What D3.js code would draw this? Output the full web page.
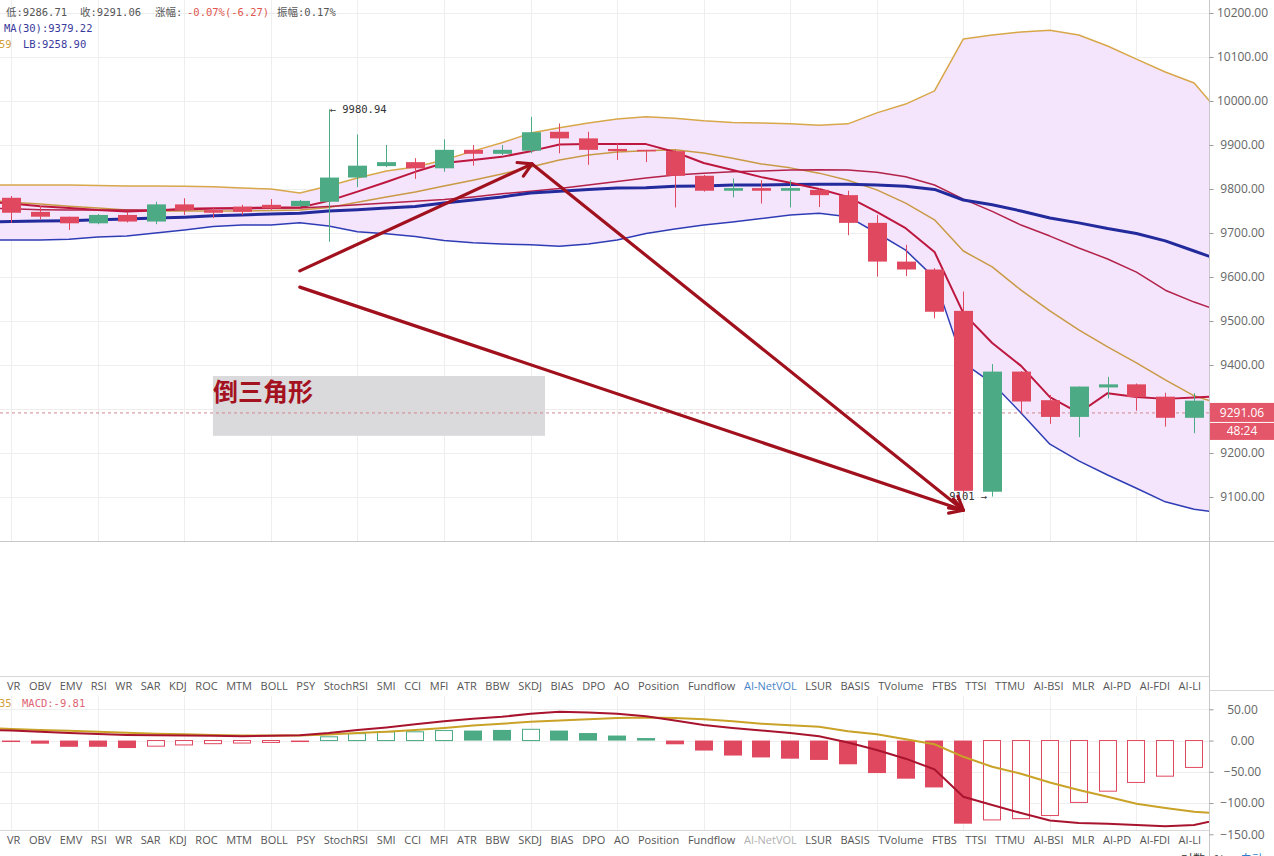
<!DOCTYPE html>
<html><head><meta charset="utf-8">
<script src="https://cdn.jsdelivr.net/npm/d3@7"></script>
<style>
body{margin:0;background:#fff;overflow:hidden}
svg{display:block}
</style></head><body>
<svg id="c" width="1274" height="856"></svg>
<script>
// ---------- DATA ----------
const opens  = [9780,9748,9737,9722,9741,9726,9765,9752,9760,9764,9761,9771,9826,9852,9861,9847,9889,9880,9887,9930,9915,9891,9889,9886,9830,9796,9802,9796,9798,9786,9723,9635,9617,9523,9112,9385,9320,9282,9349,9356,9328,9280];
const highs  = [9784,9761,9737,9743,9748,9771,9779,9758,9764,9777,9775,9980.94,9924,9900,9870,9913,9900,9900,9964,9949,9930,9905,9889,9889,9832,9824,9820,9820,9802,9796,9741,9673,9620,9567,9402,9386,9332,9351,9373,9358,9337,9336];
const lows   = [9723,9731,9707,9720,9724,9720,9741,9734,9741,9752,9759,9680,9804,9850,9823,9839,9853,9877,9881,9881,9855,9866,9861,9758,9794,9781,9767,9758,9759,9695,9601,9602,9506,9108,9101,9290,9266,9236,9324,9296,9260,9245];
const closes = [9746,9737,9722,9741,9726,9765,9752,9746,9748,9756,9773,9826,9853,9861,9847,9889,9880,9889,9929,9915,9889,9886,9888,9830,9796,9802,9796,9802,9786,9723,9635,9617,9521,9114,9385,9317,9282,9351,9356,9327,9280,9319];

// indicator lines: first value belongs to bar index -1, last to bar index 42 (off-screen)
const bollUpper = [9809,9809,9809,9809,9808,9807,9807,9806,9805,9802,9800,9791,9807,9825,9841,9850,9866,9886,9905,9927,9939,9950,9959,9964,9961,9955,9951,9950,9948,9945,9948,9973,9993,10023,10141,10150,10157,10161,10150,10125,10095,10066,10041,9964];
const bollLower = [9684,9684,9684,9686,9691,9693,9700,9707,9715,9718,9718,9723,9716,9703,9698,9692,9683,9678,9675,9673,9670,9675,9684,9699,9709,9718,9725,9733,9741,9745,9737,9700,9661,9598,9405,9359,9291,9220,9182,9150,9120,9089,9072,9064];
const maNavy = [9725,9726,9727,9728,9730,9732,9734,9736,9739,9741,9743,9745,9750,9753,9757,9760,9768,9775,9782,9791,9795,9799,9802,9803,9806,9807,9809,9809,9810,9811,9811,9809,9806,9799,9775,9764,9750,9734,9723,9710,9699,9682,9659,9636];
const maFast = [9772,9767,9761,9757,9752,9749,9751,9755,9756,9757,9758,9758,9773,9794,9816,9839,9859,9866,9873,9886,9901,9902,9902,9902,9884,9859,9843,9827,9814,9800,9782,9748,9711,9657,9518,9450,9398,9327,9291,9336,9327,9323,9326,9330];
const maSlow = [9756,9755,9753,9752,9752,9752,9752,9753,9755,9755,9756,9757,9760,9764,9768,9772,9776,9782,9789,9795,9801,9809,9817,9825,9832,9836,9839,9841,9843,9844,9843,9838,9828,9809,9777,9749,9718,9693,9666,9641,9611,9570,9543,9520];
const maGold = [9775,9770,9766,9761,9757,9752,9750,9750,9750,9750,9751,9752,9758,9770,9782,9793,9807,9820,9834,9850,9866,9877,9884,9887,9889,9882,9870,9857,9848,9836,9820,9798,9768,9730,9659,9623,9570,9523,9480,9441,9405,9366,9330,9309];

const macdHist   = [-1,-5,-10,-10,-12,-9,-7,-5,-4,-3,-1.5,6,11,14,14,16,16,17,18,16,12,8,4,-6,-16,-24,-27,-29,-31,-38,-52,-61,-75,-133,-127,-125,-120,-99,-81,-67,-57,-43];
const macdHollow = [0,0,0,0,0,1,1,1,1,1,0,1,1,1,1,1,0,0,1,0,0,0,0,0,0,0,0,0,0,0,0,0,0,0,1,1,1,1,1,1,1,1];
const macdDif = [17,16,14,12,10.5,9,8.5,8,7.5,7,7.5,8.5,12,17,21,26,31,35,38,43,46,45,43,39,32,25,20,16,12,7,-3,-15,-29,-46,-90,-103,-116,-128,-132,-133,-135,-137,-135,-125];
const macdDea = [20,18.5,17,15.5,14,12.5,11,10,9,8,8,8.2,9.5,12,14,17,20,24,27,30,32,34,36,37,36,34,31,27,24.5,22,15,10,2,-6,-26,-42,-53,-67,-79,-90,-101,-108,-114,-117];

const priceTicks = [10200,10100,10000,9900,9800,9700,9600,9500,9400,9300,9200,9100];
const macdTicks = [50,0,-50,-100,-150];
const tabLabels = ["VR","OBV","EMV","RSI","WR","SAR","KDJ","ROC","MTM","BOLL","PSY","StochRSI","SMI","CCI","MFI","ATR","BBW","SKDJ","BIAS","DPO","AO","Position","Fundflow","AI-NetVOL","LSUR","BASIS","TVolume","FTBS","TTSI","TTMU","AI-BSI","MLR","AI-PD","AI-FDI","AI-LI"];
const lastPrice = 9291.06;
const countdown = "48:24";
const highMark = {i:11, v:9980.94};
const lowMark = {i:34, v:9101};
const patternLabel = "倒三角形";
const patternBox = {i0:6.99, i1:18.5, p0:9375, p1:9239};
const arrows = [
  {from:[10,9614], to:[18.05,9857]},
  {from:[18.05,9857], to:[33,9070]},
  {from:[10,9577], to:[33,9070]}
];

// ---------- SCALES ----------
const svg = d3.select("#c");
const AX = 1209.5;
const x = d3.scaleLinear().domain([0,42]).range([11.3, 11.3+28.85*42]);
const yP = d3.scaleLinear().domain([9000,10229.5]).range([541,0]);
const yM = d3.scaleLinear().domain([-150,50]).range([834.3,709.3]);
const RED = "#e0485f", GREEN = "#4cab84";
const MONO = "'DejaVu Sans Mono','Noto Sans CJK SC',monospace";
const SANS = "'Open Sans','Noto Sans',sans-serif";

const defs = svg.append("defs");
defs.append("clipPath").attr("id","cm").append("rect").attr("x",0).attr("y",0).attr("width",1209).attr("height",541);
defs.append("clipPath").attr("id","cd").append("rect").attr("x",0).attr("y",696).attr("width",1209).attr("height",134);

const lineX = (d,k) => x(k-1);

// ---------- MAIN PANE ----------
const main = svg.append("g").attr("clip-path","url(#cm)");
const vIdx = d3.range(0,43,3);
main.selectAll(".vg").data(vIdx).join("line")
  .attr("x1",d=>Math.round(x(d))+0.5).attr("x2",d=>Math.round(x(d))+0.5)
  .attr("y1",0).attr("y2",541).attr("stroke","#eeeeee");
main.selectAll(".hg").data(priceTicks).join("line")
  .attr("x1",0).attr("x2",1209).attr("y1",d=>Math.round(yP(d))+0.5).attr("y2",d=>Math.round(yP(d))+0.5)
  .attr("stroke","#eeeeee");

main.append("path").datum(bollUpper)
  .attr("d", d3.area().x(lineX).y0((d,k)=>yP(bollLower[k])).y1(d=>yP(d)))
  .attr("fill","#f4e5fc");

main.append("rect")
  .attr("x",x(patternBox.i0)).attr("y",yP(patternBox.p0))
  .attr("width",x(patternBox.i1)-x(patternBox.i0)).attr("height",yP(patternBox.p1)-yP(patternBox.p0))
  .attr("fill","#d8d8da").attr("opacity",0.95);

main.append("line").attr("x1",0).attr("x2",1209)
  .attr("y1",yP(lastPrice)).attr("y2",yP(lastPrice))
  .attr("stroke","#d08890").attr("stroke-dasharray","3,3").attr("stroke-width",1);

const ln = d3.line().x(lineX).y(d=>yP(d));
const lineSpecs = [
  [bollUpper,"#d8a74a",1.5],
  [bollLower,"#2f3db5",1.5],
  [maGold,"#c99a45",1.5],
  [maSlow,"#b3224a",1.5],
  [maNavy,"#232a9c",3],
  [maFast,"#bd173f",2]
];
lineSpecs.forEach(([arr,col,w])=>{
  main.append("path").datum(arr).attr("d",ln).attr("fill","none").attr("stroke",col).attr("stroke-width",w).attr("stroke-linejoin","round");
});

const cIdx = d3.range(opens.length);
const cg = main.append("g");
cg.selectAll(".wick").data(cIdx).join("line")
  .attr("x1",i=>Math.round(x(i))+0.5).attr("x2",i=>Math.round(x(i))+0.5)
  .attr("y1",i=>yP(highs[i])).attr("y2",i=>yP(lows[i]))
  .attr("stroke",i=>closes[i]>=opens[i]?GREEN:RED).attr("stroke-width",1);
cg.selectAll(".body").data(cIdx).join("rect")
  .attr("x",i=>Math.round(x(i))-9).attr("width",19)
  .attr("y",i=>yP(Math.max(opens[i],closes[i])))
  .attr("height",i=>Math.max(1.5,Math.abs(yP(opens[i])-yP(closes[i]))))
  .attr("fill",i=>closes[i]>=opens[i]?GREEN:RED);

main.append("text").attr("x",x(highMark.i)+1).attr("y",yP(highMark.v)+4)
  .text("\u2190 " + highMark.v.toFixed(2)).attr("fill","#333").style("font",`10.5px ${MONO}`);
main.append("text").attr("x",x(lowMark.i)-5).attr("y",yP(lowMark.v)+3).attr("text-anchor","end")
  .text(lowMark.v + " \u2192").attr("fill","#333").style("font",`10.5px ${MONO}`);

main.append("text").attr("x",x(patternBox.i0)).attr("y",yP(patternBox.p0)+25)
  .text(patternLabel).attr("fill","#a5121f")
  .style("font",`700 25px 'Noto Sans CJK SC',sans-serif`);

const ag = main.append("g").attr("stroke","#a0111d").attr("stroke-width",3.2).attr("fill","none").attr("stroke-linecap","round").attr("stroke-linejoin","round");
arrows.forEach(a=>{
  const x1=x(a.from[0]), y1=yP(a.from[1]), x2=x(a.to[0]), y2=yP(a.to[1]);
  ag.append("line").attr("x1",x1).attr("y1",y1).attr("x2",x2).attr("y2",y2);
  const ang=Math.atan2(y2-y1,x2-x1), L=15, sp=Math.PI/6;
  const p1=[x2+L*Math.cos(ang+Math.PI-sp), y2+L*Math.sin(ang+Math.PI-sp)];
  const p2=[x2+L*Math.cos(ang+Math.PI+sp), y2+L*Math.sin(ang+Math.PI+sp)];
  ag.append("path").attr("d",`M${p1[0]},${p1[1]}L${x2},${y2}L${p2[0]},${p2[1]}`);
});

svg.append("line").attr("x1",0).attr("x2",1274).attr("y1",541.5).attr("y2",541.5).attr("stroke","#c8c8c8");
svg.append("line").attr("x1",AX).attr("x2",AX).attr("y1",0).attr("y2",856).attr("stroke","#c8c8c8");

// price axis (label hidden behind the last-price tag is not drawn)
const lyv = yP(lastPrice);
const pax = svg.append("g").attr("transform",`translate(${AX},0)`)
  .call(d3.axisRight(yP).tickValues(priceTicks).tickFormat(d3.format(".2f")).tickSize(4).tickSizeOuter(0));
pax.select(".domain").remove();
pax.selectAll("line").attr("stroke","#999");
pax.selectAll("text").attr("x",33).attr("text-anchor","middle").attr("fill","#666").style("font",`12px ${SANS}`);
pax.selectAll(".tick").filter(d=>Math.abs(yP(d)-lyv)<14).select("text").remove();

svg.append("rect").attr("x",AX+0.5).attr("y",lyv-10).attr("width",1274-AX).attr("height",19).attr("fill","#e4566a");
svg.append("rect").attr("x",AX+0.5).attr("y",lyv+10).attr("width",1274-AX).attr("height",17).attr("fill","#e4566a");
svg.append("text").attr("x",1242).attr("y",lyv+4).attr("text-anchor","middle").text(lastPrice.toFixed(2))
  .attr("fill","#fff").style("font",`12px ${SANS}`);
svg.append("text").attr("x",1242).attr("y",lyv+22.5).attr("text-anchor","middle").text(countdown)
  .attr("fill","#fff").style("font",`12px ${SANS}`);

// header texts
const hdr = svg.append("g").style("font",`10.5px ${MONO}`);
hdr.append("text").attr("x",6).attr("y",16).attr("fill","#555").text("低:9286.71");
hdr.append("text").attr("x",80).attr("y",16).attr("fill","#555").text("收:9291.06");
hdr.append("text").attr("x",155).attr("y",16).attr("fill","#555").text("涨幅:");
hdr.append("text").attr("x",187).attr("y",16).attr("fill","#e0564f").text("-0.07%(-6.27)");
hdr.append("text").attr("x",277).attr("y",16).attr("fill","#555").text("振幅:0.17%");
hdr.append("text").attr("x",4).attr("y",32).attr("fill","#3a3a9c").text("MA(30):9379.22");
hdr.append("text").attr("x",-1).attr("y",48).attr("fill","#d4a03c").text("59");
hdr.append("text").attr("x",23).attr("y",48).attr("fill","#3a3a9c").text("LB:9258.90");

// ---------- TAB ROWS ----------
function tabRow(y, netColor){
  const g = svg.append("g");
  const ts = g.selectAll("text").data(tabLabels).join("text").attr("y",y).text(d=>d)
    .style("font",`11px ${SANS}`).attr("fill",d=>d==="AI-NetVOL"?netColor:"#555");
  const widths = ts.nodes().map(n=>n.getComputedTextLength());
  const total = d3.sum(widths), start = 7, end = 1201;
  const gap = (end-start-total)/(tabLabels.length-1);
  let cx = start;
  ts.attr("x",(d,i)=>{const v=cx; cx+=widths[i]+gap; return v;});
}
svg.append("line").attr("x1",0).attr("x2",1209).attr("y1",676.5).attr("y2",676.5).attr("stroke","#d8d8d8");
svg.append("line").attr("x1",AX).attr("x2",1274).attr("y1",690.5).attr("y2",690.5).attr("stroke","#d8d8d8");
tabRow(690, "#4a86c8");
svg.append("line").attr("x1",0).attr("x2",1209).attr("y1",830.5).attr("y2",830.5).attr("stroke","#d8d8d8");
tabRow(844, "#b0b0b0");

// ---------- MACD PANE ----------
const md = svg.append("g").attr("clip-path","url(#cd)");
md.selectAll(".vg").data(vIdx).join("line")
  .attr("x1",d=>Math.round(x(d))+0.5).attr("x2",d=>Math.round(x(d))+0.5)
  .attr("y1",696).attr("y2",830).attr("stroke","#eeeeee");
md.selectAll(".hg").data(macdTicks).join("line")
  .attr("x1",0).attr("x2",1209).attr("y1",d=>Math.round(yM(d))+0.5).attr("y2",d=>Math.round(yM(d))+0.5)
  .attr("stroke","#eeeeee");
const hIdx = d3.range(macdHist.length);
md.selectAll(".bar").data(hIdx).join("rect")
  .attr("x",i=>Math.round(x(i))-9+(macdHollow[i]?0.5:0))
  .attr("width",i=>macdHollow[i]?17:18)
  .attr("y",i=>Math.min(yM(0),yM(macdHist[i])))
  .attr("height",i=>Math.max(1.5,Math.abs(yM(macdHist[i])-yM(0))))
  .attr("fill",i=>macdHollow[i]?"#fff":(macdHist[i]>=0?GREEN:RED))
  .attr("stroke",i=>macdHollow[i]?(macdHist[i]>=0?GREEN:RED):"none")
  .attr("stroke-width",1);
const lnM = d3.line().x(lineX).y(d=>yM(d));
md.append("path").datum(macdDea).attr("d",lnM).attr("fill","none").attr("stroke","#c9a227").attr("stroke-width",2);
md.append("path").datum(macdDif).attr("d",lnM).attr("fill","none").attr("stroke","#a8142e").attr("stroke-width",2);

const max = svg.append("g").attr("transform",`translate(${AX},0)`)
  .call(d3.axisRight(yM).tickValues(macdTicks).tickFormat(d3.format(".2f")).tickSize(4).tickSizeOuter(0));
max.select(".domain").remove();
max.selectAll("line").attr("stroke","#999");
max.selectAll("text").attr("x",33).attr("text-anchor","middle").attr("fill","#666").style("font",`12px ${SANS}`);

svg.append("text").attr("x",-1).attr("y",707).attr("fill","#d4a03c").style("font",`10.5px ${MONO}`).text("35");
svg.append("text").attr("x",22).attr("y",707).attr("fill","#e06474").style("font",`10.5px ${MONO}`).text("MACD:-9.81");

// bottom controls (cut off at the window edge, as in the source)
const bt = svg.append("g").style("font",`12px 'Noto Sans CJK SC',sans-serif`);
bt.append("text").attr("x",1181).attr("y",864).attr("fill","#333").text("对数");
bt.append("text").attr("x",1214).attr("y",864).attr("fill","#333").text("%");
bt.append("text").attr("x",1240).attr("y",864).attr("fill","#2f7fd0").text("自动");
</script>
</body></html>
